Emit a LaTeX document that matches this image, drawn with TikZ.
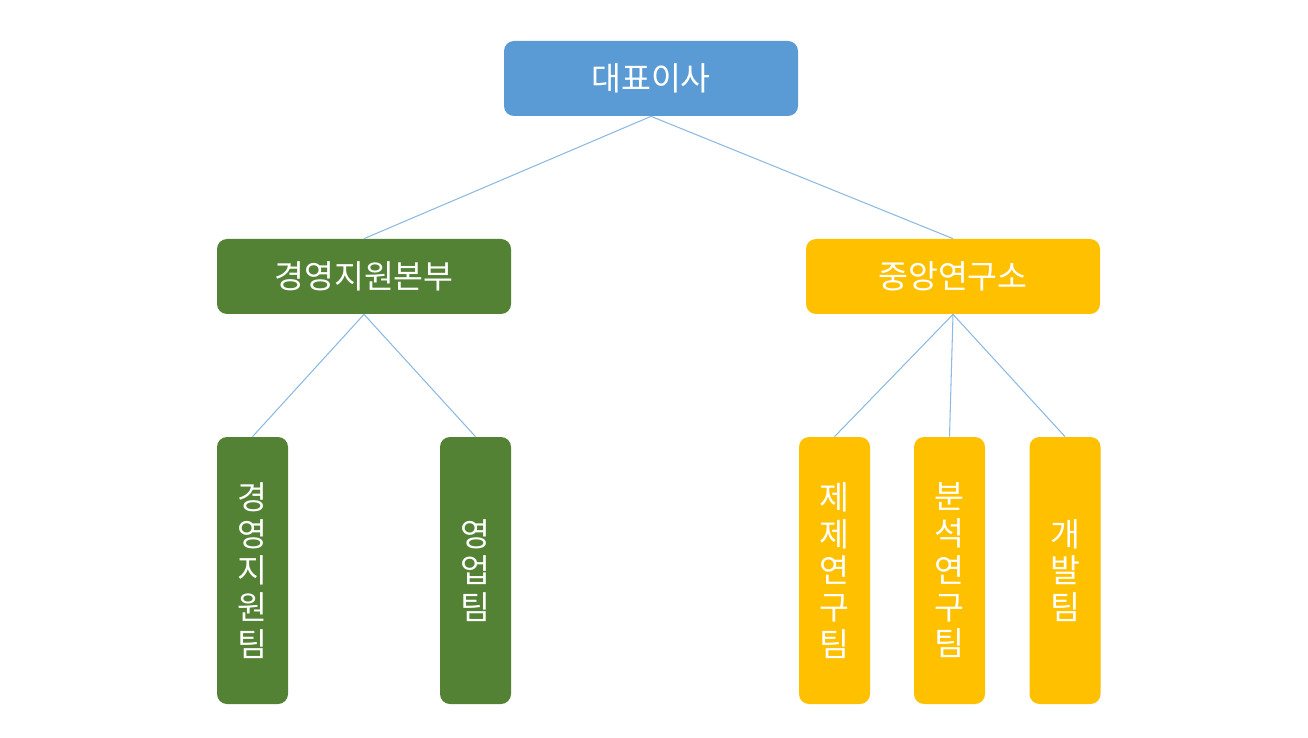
\documentclass[tikz,border=0pt]{standalone}
\usepackage{fontspec}
\setmainfont{Noto Sans CJK KR}
\usepackage{tikz}

\definecolor{ceoblue}{HTML}{5B9BD5}
\definecolor{mgmtgreen}{HTML}{548235}
\definecolor{labgold}{HTML}{FFC000}

\begin{document}
\begin{tikzpicture}[
		box/.style={rounded corners=0.2cm,text=white,align=center,inner sep=0pt,
			font={\fontsize{18.5}{20.9}\selectfont}},
		head/.style={box,minimum width=5.88cm,minimum height=1.5cm},
		team/.style={box,minimum width=1.42cm,minimum height=5.34cm},
		link/.style={draw=ceoblue!70,line width=0.6pt}]
		\useasboundingbox (0,0) rectangle (26.16,-14.76);
		% top
		\node[head,fill=ceoblue] (ceo) at (13.02,-1.57) {대표이사};
		\node[head,fill=mgmtgreen] (mgmt) at (7.28,-5.53) {경영지원본부};
		\node[head,fill=labgold] (lab) at (19.06,-5.53) {중앙연구소};
		% teams
		\node[team,fill=mgmtgreen] (support) at (5.05,-11.41) {경\\영\\지\\원\\팀};
		\node[team,fill=mgmtgreen] (sales) at (9.51,-11.41) {영\\업\\팀};
		\node[team,fill=labgold] (pharm) at (16.69,-11.41) {제\\제\\연\\구\\팀};
		\node[team,fill=labgold] (analysis) at (18.99,-11.41) {분\\석\\연\\구\\팀};
		\node[team,fill=labgold] (dev) at (21.30,-11.41) {개\\발\\팀};
		% links
		\path[link] (ceo.south) -- (mgmt.north);
		\path[link] (ceo.south) -- (lab.north);
		\path[link] (mgmt.south) -- (support.north);
		\path[link] (mgmt.south) -- (sales.north);
		\path[link] (lab.south) -- (pharm.north);
		\path[link] (lab.south) -- (analysis.north);
		\path[link] (lab.south) -- (dev.north);
	\end{tikzpicture}
\end{document}
